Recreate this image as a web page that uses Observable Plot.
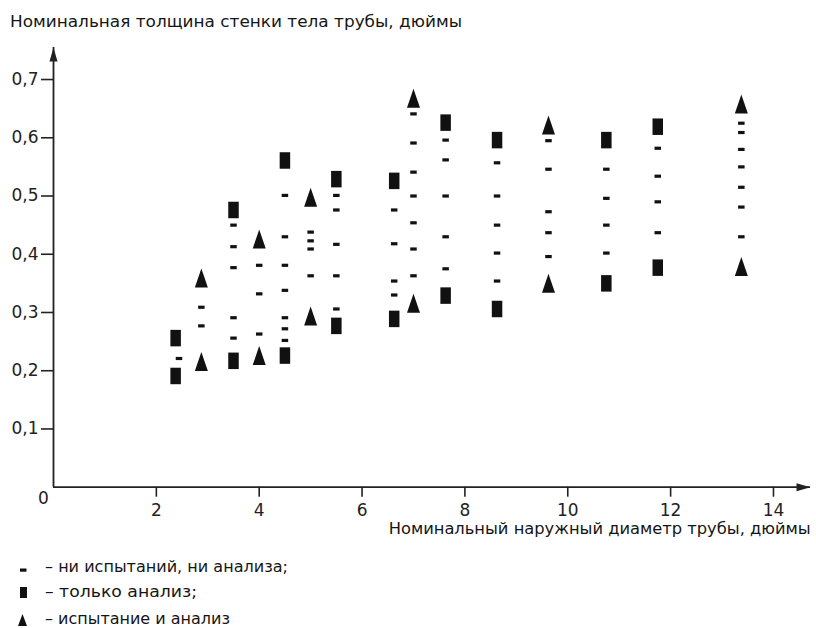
<!DOCTYPE html>
<html>
<head>
<meta charset="utf-8">
<script src="https://cdn.jsdelivr.net/npm/d3@7"></script>
<script src="https://cdn.jsdelivr.net/npm/@observablehq/plot@0.6"></script>
<style>
  html, body { margin: 0; padding: 0; background: #fff; }
  #wrap { position: relative; width: 816px; height: 628px; font-family: "DejaVu Sans", sans-serif; color: #151515; }
  .t { position: absolute; white-space: nowrap; line-height: 1; }
  #chart { position: absolute; left: 0; top: 40px; }
  .sym { position: absolute; }
</style>
</head>
<body>
<div id="wrap">
  <div id="title" class="t" style="left:10px; top:13.5px; font-size:16px;"></div>
  <div id="chart"></div>
  <div id="xlabel" class="t" style="right:5px; top:521px; font-size:16px;"></div>
  <svg class="sym" style="left:18px; top:566px;" width="12" height="8"><rect x="2" y="2.5" width="6.5" height="3.2" fill="#111"/></svg>
  <div id="leg0" class="t" style="left:45px; top:560.4px; font-size:15.5px;"></div>
  <svg class="sym" style="left:18px; top:586px;" width="12" height="14"><rect x="2" y="1" width="7" height="11" fill="#111"/></svg>
  <div id="leg1" class="t" style="left:45px; top:584.9px; font-size:15.5px;"></div>
  <svg class="sym" style="left:17px; top:613px;" width="12" height="15"><polygon points="5.5,1 10,13 1,13" fill="#111"/></svg>
  <div id="leg2" class="t" style="left:45px; top:611.9px; font-size:15.5px;"></div>
</div>
<script>
// ---- texts ----
const titleText = "Номинальная толщина стенки тела трубы, дюймы";
const xLabelText = "Номинальный наружный диаметр трубы, дюймы";
const legendLabels = [
  "– ни испытаний, ни анализа;",
  "– только анализ;",
  "– испытание и анализ"
];

// ---- axes ----
const xTicks = [2, 4, 6, 8, 10, 12, 14];
const yTicks = [0.1, 0.2, 0.3, 0.4, 0.5, 0.6, 0.7];
const xExtent = [0, 14.72];   // axis arrow reaches past 14
const yExtent = [0, 0.755];   // axis arrow reaches past 0.7
const originLabel = ["0"];

// ---- data: [outer diameter (in), wall thickness (in)] ----
// only analysis (squares)
const squares = [
  [2.375, 0.256], [2.375, 0.191],
  [3.5, 0.476], [3.5, 0.217],
  [4.5, 0.561], [4.5, 0.226],
  [5.5, 0.529], [5.5, 0.277],
  [6.625, 0.526], [6.625, 0.289],
  [7.625, 0.626], [7.625, 0.329],
  [8.625, 0.596], [8.625, 0.306],
  [10.75, 0.596], [10.75, 0.350],
  [11.75, 0.619], [11.75, 0.377]
];
// testing and analysis (triangles)
const triangles = [
  [2.875, 0.359], [2.875, 0.216],
  [4.0, 0.426], [4.0, 0.226],
  [5.0, 0.498], [5.0, 0.294],
  [7.0, 0.668], [7.0, 0.316],
  [9.625, 0.622], [9.625, 0.350],
  [13.375, 0.658], [13.375, 0.379]
];
// neither testing nor analysis (dashes)
const dashes = [
  [2.44, 0.221],
  [2.875, 0.309], [2.875, 0.277],
  [3.5, 0.450], [3.5, 0.413], [3.5, 0.377], [3.5, 0.291], [3.5, 0.256],
  [4.0, 0.381], [4.0, 0.332], [4.0, 0.263],
  [4.5, 0.501], [4.5, 0.430], [4.5, 0.381], [4.5, 0.338], [4.5, 0.291], [4.5, 0.272], [4.5, 0.252],
  [5.0, 0.438], [5.0, 0.423], [5.0, 0.409], [5.0, 0.363],
  [5.5, 0.501], [5.5, 0.476], [5.5, 0.417], [5.5, 0.363], [5.5, 0.306],
  [6.625, 0.476], [6.625, 0.418], [6.625, 0.354], [6.625, 0.330],
  [7.0, 0.641], [7.0, 0.591], [7.0, 0.541], [7.0, 0.500], [7.0, 0.454], [7.0, 0.409], [7.0, 0.363],
  [7.625, 0.596], [7.625, 0.562], [7.625, 0.500], [7.625, 0.430], [7.625, 0.375],
  [8.625, 0.557], [8.625, 0.500], [8.625, 0.450], [8.625, 0.402], [8.625, 0.354],
  [9.625, 0.595], [9.625, 0.546], [9.625, 0.473], [9.625, 0.437], [9.625, 0.396],
  [10.75, 0.546], [10.75, 0.496], [10.75, 0.450], [10.75, 0.402],
  [11.75, 0.582], [11.75, 0.534], [11.75, 0.490], [11.75, 0.437],
  [13.375, 0.625], [13.375, 0.609], [13.375, 0.580], [13.375, 0.550], [13.375, 0.515], [13.375, 0.481], [13.375, 0.430]
];

// ---- custom symbols ----
function rectSymbol(w, h) {
  return { draw(ctx) { ctx.moveTo(-w/2, -h/2); ctx.lineTo(w/2, -h/2); ctx.lineTo(w/2, h/2); ctx.lineTo(-w/2, h/2); ctx.closePath(); } };
}
function triSymbol(w, h) {
  return { draw(ctx) { ctx.moveTo(0, -h/2); ctx.lineTo(w/2, h/2); ctx.lineTo(-w/2, h/2); ctx.closePath(); } };
}
const arrowHead = { draw(ctx) { ctx.moveTo(0, 0); ctx.lineTo(4, 14); ctx.lineTo(-4, 14); ctx.closePath(); } };

const ink = "#111";
const axisInk = "#222";

const chart = Plot.plot({
  width: 816,
  height: 500,
  marginLeft: 53,
  marginRight: 6,
  marginTop: 7,
  marginBottom: 53.3,
  x: { domain: xExtent },
  y: { domain: yExtent },
  style: { fontFamily: "DejaVu Sans", fontSize: "17px", color: axisInk, background: "white" },
  marks: [
    Plot.axisY({ ticks: yTicks, tickSize: 12, tickPadding: 3, strokeWidth: 1.6, label: null,
                 tickFormat: d => String(d).replace(".", ",") }),
    Plot.axisX({ ticks: xTicks, tickSize: 10, tickPadding: 6.5, strokeWidth: 1.6, label: null,
                 tickFormat: d => String(d) }),
    Plot.ruleX([xExtent[0]], { stroke: axisInk, strokeWidth: 1.8 }),
    Plot.ruleY([yExtent[0]], { stroke: axisInk, strokeWidth: 1.8 }),
    Plot.dot([[xExtent[0], yExtent[1]]], { x: d => d[0], y: d => d[1], symbol: arrowHead, r: 5, fill: axisInk, stroke: "none" }),
    Plot.dot([[xExtent[1], yExtent[0]]], { x: d => d[0], y: d => d[1], symbol: arrowHead, r: 5, rotate: 90, fill: axisInk, stroke: "none" }),
    Plot.text(originLabel, { x: () => xExtent[0], y: () => yExtent[0], text: d => d, dx: -10, dy: 11, fill: axisInk }),
    Plot.dot(dashes, { x: d => d[0], y: d => d[1], symbol: rectSymbol(6.5, 3.2), r: 3, fill: ink, stroke: "none" }),
    Plot.dot(squares, { x: d => d[0], y: d => d[1], symbol: rectSymbol(10.5, 16.5), r: 5, fill: ink, stroke: "none" }),
    Plot.dot(triangles, { x: d => d[0], y: d => d[1], symbol: triSymbol(13, 19), r: 5, fill: ink, stroke: "none" })
  ]
});
document.getElementById("chart").appendChild(chart);

// ---- texts ----
document.getElementById("title").textContent = titleText;
document.getElementById("xlabel").textContent = xLabelText;
legendLabels.forEach((t, i) => { document.getElementById("leg" + i).textContent = t; });

// fit text widths to the reference layout
function fit(id, target, origin) {
  const el = document.getElementById(id);
  const w = el.getBoundingClientRect().width;
  el.style.transformOrigin = origin;
  el.style.transform = `scaleX(${target / w})`;
}
fit("title", 452, "left");
fit("xlabel", 422, "right");
fit("leg0", 243, "left");
fit("leg1", 152, "left");
fit("leg2", 185, "left");
</script>
</body>
</html>
